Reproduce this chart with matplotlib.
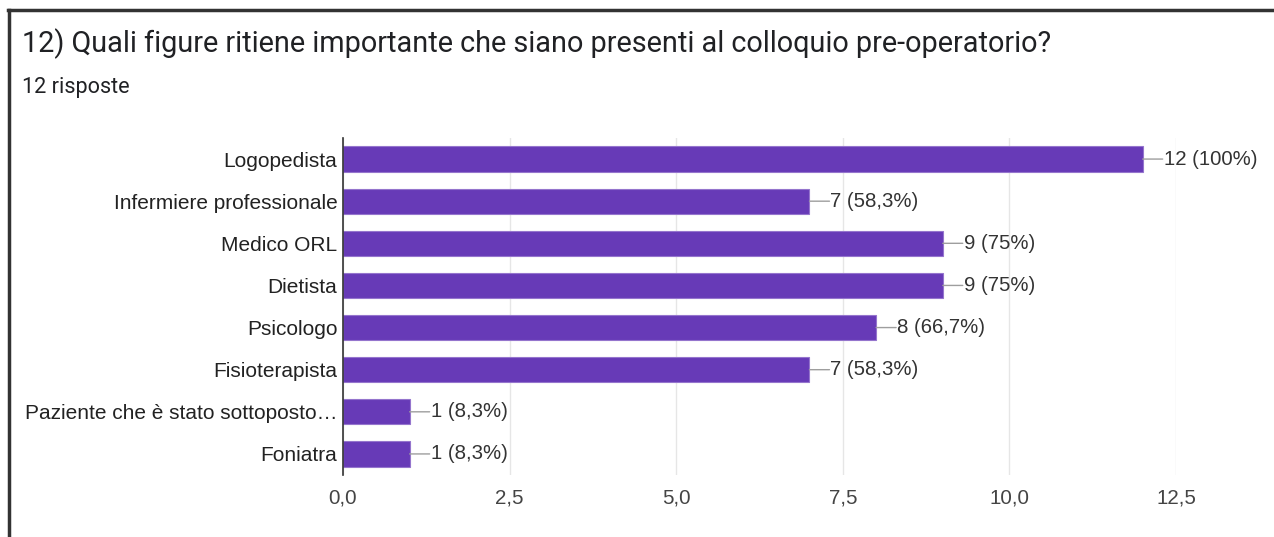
import matplotlib.pyplot as plt
from matplotlib.lines import Line2D

# answers to question 12 (12 respondents)
categories = ['Logopedista', 'Infermiere professionale', 'Medico ORL', 'Dietista',
              'Psicologo', 'Fisioterapista', 'Paziente che è stato sottoposto…', 'Foniatra']
counts = [12, 7, 9, 9, 8, 7, 1, 1]
percent_labels = ['100%', '58,3%', '75%', '75%', '66,7%', '58,3%', '8,3%', '8,3%']
x_ticks = [0, 2.5, 5, 7.5, 10, 12.5]
x_tick_labels = ['0,0', '2,5', '5,0', '7,5', '10,0', '12,5']

purple = '#673ab7'
fig = plt.figure(figsize=(12.74, 5.37), dpi=100)
ax = fig.add_axes([343 / 1274, 1 - 475 / 537, 833 / 1274, 337 / 537])

y_pos = list(range(len(categories)))
ax.barh(y_pos, counts, height=0.6, color=purple, edgecolor='#9575cd', linewidth=0.8, zorder=3)
ax.set_ylim(len(categories) - 0.5, -0.5)
ax.set_xlim(0, 12.5)

# leader line + value label to the right of each bar
for y, c, p in zip(y_pos, counts, percent_labels):
    ax.annotate('', xy=(c, y), xytext=(20, 0), textcoords='offset pixels',
                arrowprops=dict(arrowstyle='-', color='#9e9e9e', lw=1, shrinkA=0, shrinkB=0))
    ax.annotate(f'{c} ({p})', xy=(c, y), xytext=(21, 0), textcoords='offset pixels',
                ha='left', va='center', fontsize=14.7, color='#333333',
                family='Liberation Sans')

ax.set_xticks(x_ticks)
ax.set_xticklabels(x_tick_labels, family='Liberation Sans', fontsize=14.8, color='#444444')
ax.set_yticks(y_pos)
ax.set_yticklabels(categories, family='Liberation Sans', fontsize=15, color='#222222')
ax.tick_params(length=0, pad=4)
ax.tick_params(axis='x', pad=10)
ax.grid(axis='x', color='#e6e6e6', lw=1, zorder=0)
for s in ['top', 'right', 'bottom']:
    ax.spines[s].set_visible(False)
ax.spines['left'].set_color('#333333')
ax.spines['left'].set_linewidth(1.2)
ax.spines['left'].set_zorder(4)

fig.text(22 / 1274, 1 - 44 / 537, '12) Quali figure ritiene importante che siano presenti al colloquio pre-operatorio?',
         ha='left', va='center', fontsize=20.8, color='#202124', family='Roboto')
fig.text(22 / 1274, 1 - 87 / 537, '12 risposte', ha='left', va='center', fontsize=15.6,
         color='#202124', family='Roboto')

# dark frame of the screenshot (top and left)
fig.add_artist(Line2D([8 / 1274, 1], [1 - 9.5 / 537, 1 - 9.5 / 537], transform=fig.transFigure,
                      color='#333333', lw=2.5))
fig.add_artist(Line2D([8.5 / 1274, 8.5 / 1274], [0, 1 - 9.5 / 537], transform=fig.transFigure,
                      color='#333333', lw=2.5))

fig.savefig('out.png', dpi=100)
